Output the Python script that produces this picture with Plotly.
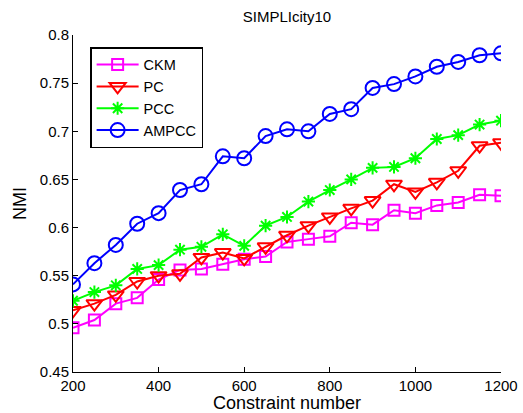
import plotly.graph_objects as go

constraints = [200, 250, 300, 350, 400, 450, 500, 550, 600, 650, 700,
               750, 800, 850, 900, 950, 1000, 1050, 1100, 1150, 1200]
ckm = [0.496, 0.504, 0.521, 0.527, 0.546, 0.556, 0.557, 0.562, 0.567, 0.570, 0.585,
       0.588, 0.591, 0.605, 0.603, 0.618, 0.615, 0.623, 0.626, 0.634, 0.633]
pc = [0.514, 0.521, 0.530, 0.544, 0.550, 0.552, 0.569, 0.574, 0.568, 0.580, 0.592,
      0.602, 0.611, 0.620, 0.628, 0.645, 0.637, 0.647, 0.659, 0.685, 0.688]
pcc = [0.524, 0.533, 0.540, 0.557, 0.561, 0.577, 0.580, 0.593, 0.581, 0.602, 0.611,
       0.627, 0.639, 0.650, 0.662, 0.663, 0.672, 0.692, 0.696, 0.707, 0.711]
ampcc = [0.541, 0.563, 0.582, 0.604, 0.615, 0.639, 0.645, 0.674, 0.672, 0.695, 0.702,
         0.700, 0.718, 0.723, 0.745, 0.749, 0.757, 0.767, 0.772, 0.779, 0.781]

series = [
    ("CKM", ckm, "#ff00ff", "square-open", 11),
    ("PC", pc, "#ff0000", "triangle-down-open", 14),
    ("PCC", pcc, "#00ff00", "asterisk-open", 11),
    ("AMPCC", ampcc, "#0000ff", "circle-open", 14),
]

fig = go.Figure()
for name, vals, color, sym, size in series:
    fig.add_trace(go.Scatter(
        x=constraints, y=vals, name=name, mode="lines+markers",
        line=dict(color=color, width=2),
        marker=dict(symbol=sym, size=size, color=color,
                    line=dict(color=color, width=2)),
    ))

fig.update_layout(
    width=523, height=413,
    margin=dict(l=73, r=22, t=35, b=41, autoexpand=False),
    paper_bgcolor="white", plot_bgcolor="white",
    font=dict(family="Liberation Sans, Arial, sans-serif", size=15, color="black"),
    title=dict(text="SIMPLIcity10", x=287 / 523, xanchor="center",
               y=1 - 17 / 413, yanchor="middle", font=dict(size=15)),
    showlegend=True,
    legend=dict(x=0.04, y=0.964, xanchor="left", yanchor="top",
                bordercolor="black", borderwidth=1.5, bgcolor="white",
                font=dict(size=14.5), tracegroupgap=0, itemwidth=42),
)
fig.update_xaxes(
    range=[200, 1200], tickvals=[200, 400, 600, 800, 1000, 1200],
    showline=True, linecolor="black", linewidth=1, mirror=False, automargin=False,
    ticks="inside", ticklen=5, tickcolor="black", showgrid=False, zeroline=False,
    title=dict(text="Constraint number", standoff=2),
)
fig.update_yaxes(
    range=[0.45, 0.8], tickvals=[0.45, 0.5, 0.55, 0.6, 0.65, 0.7, 0.75, 0.8],
    ticktext=["0.45", "0.5", "0.55", "0.6", "0.65", "0.7", "0.75", "0.8"],
    showline=True, linecolor="black", linewidth=1, mirror=False, automargin=False,
    ticks="inside", ticklen=5, tickcolor="black", showgrid=False, zeroline=False,
    title=dict(text="NMI", standoff=8),
)

fig.write_html(
    "out.html",
    config={"displayModeBar": False},
    post_script="document.body.style.margin='0';document.body.style.overflow='hidden';",
)
